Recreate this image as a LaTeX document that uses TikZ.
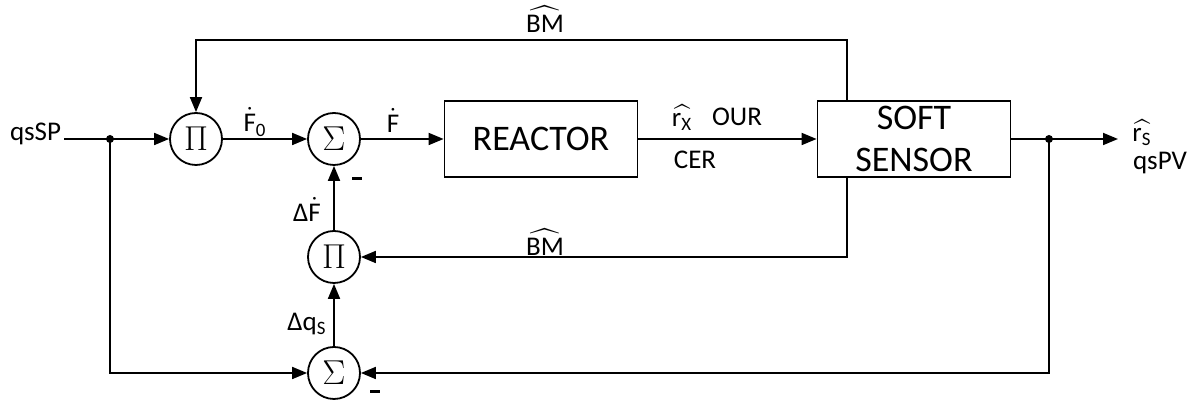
\documentclass[tikz,border=0pt]{standalone}
\usepackage{amsmath}
\usepackage{fontspec}
\setmainfont{Carlito}
\usetikzlibrary{arrows.meta}

\begin{document}
\begin{tikzpicture}[x=0.5pt,y=0.5pt,line width=0.9pt,
  sig/.style={-{Triangle[length=7.5pt,width=6pt]}},
  op/.style={draw,circle,minimum size=26pt,inner sep=0pt,font=\fontsize{18}{18}\selectfont},
  blk/.style={draw,minimum width=96.5pt,minimum height=38pt,inner sep=0pt,align=center,font=\fontsize{18}{21}\selectfont},
  lbl/.style={font=\fontsize{13.5}{15}\selectfont}]
\useasboundingbox (0,0) rectangle (1201,405);
\node[op] (pi1) at (196,266) {$\Pi$};
\node[op] (sum1) at (334,266) {$\Sigma$};
\node[op] (pi2) at (334,148) {$\Pi$};
\node[op] (sum2) at (334,32) {$\Sigma$};
\node[blk] (reactor) at (541,266) {REACTOR};
\node[blk] (sensor) at (914,266) {SOFT\\SENSOR};
\node[lbl,anchor=east,inner sep=1pt] (qssp) at (64,271) {qsSP};
\coordinate (in) at (64,266);
\coordinate (split1) at (110,266);
\coordinate (split2) at (1049,266);
\coordinate (out) at (1118,266);
\coordinate (top) at (847,365);
% forward path
\draw[sig] (in) -- (pi1.west);
\draw[sig] (pi1.east) -- (sum1.west);
\draw[sig] (sum1.east) -- (reactor.west);
\draw[sig] (reactor.east) -- (sensor.west);
\draw[sig] (sensor.east) -- (out);
% feedback paths
\draw[sig] (top |- sensor.north) -- (top) -| (pi1.north);
\draw[sig] (top |- sensor.south) |- (pi2.east);
\draw[sig] (split1) |- (sum2.west);
\draw[sig] (split2) |- (sum2.east);
\draw[sig] (sum2.north) -- (pi2.south);
\draw[sig] (pi2.north) -- (sum1.south);
\fill (split1) circle (2pt);
\fill (split2) circle (2pt);
% labels
\node[lbl] (f0) at (255,283) {$\dot{\text{F}}_{\text{0}}$};
\node[lbl] (fd) at (393,285) {$\dot{\text{F}}$};
\node[lbl] (dfd) at (307,196) {Δ$\dot{\text{F}}$};
\node[lbl] (dqs) at (307,81) {Δq$_{\text{S}}$};
\node[lbl] (bm1) at (545,386) {$\widehat{\text{BM}}$};
\node[lbl] (bm2) at (545,163) {$\widehat{\text{BM}}$};
\node[lbl] (rx) at (682,287) {$\widehat{\text{r}_{\text{X}}}$};
\node[lbl] (our) at (737,288) {OUR};
\node[lbl] (cer) at (695,245) {CER};
\node[lbl] (rs) at (1142,272) {$\widehat{\text{r}_{\text{S}}}$};
\node[lbl] (qspv) at (1160,242) {qsPV};
\node (m1) at (357,226) {\rule{5pt}{1.5pt}};
\node (m2) at (375,13) {\rule{5pt}{1.5pt}};
\end{tikzpicture}
\end{document}
